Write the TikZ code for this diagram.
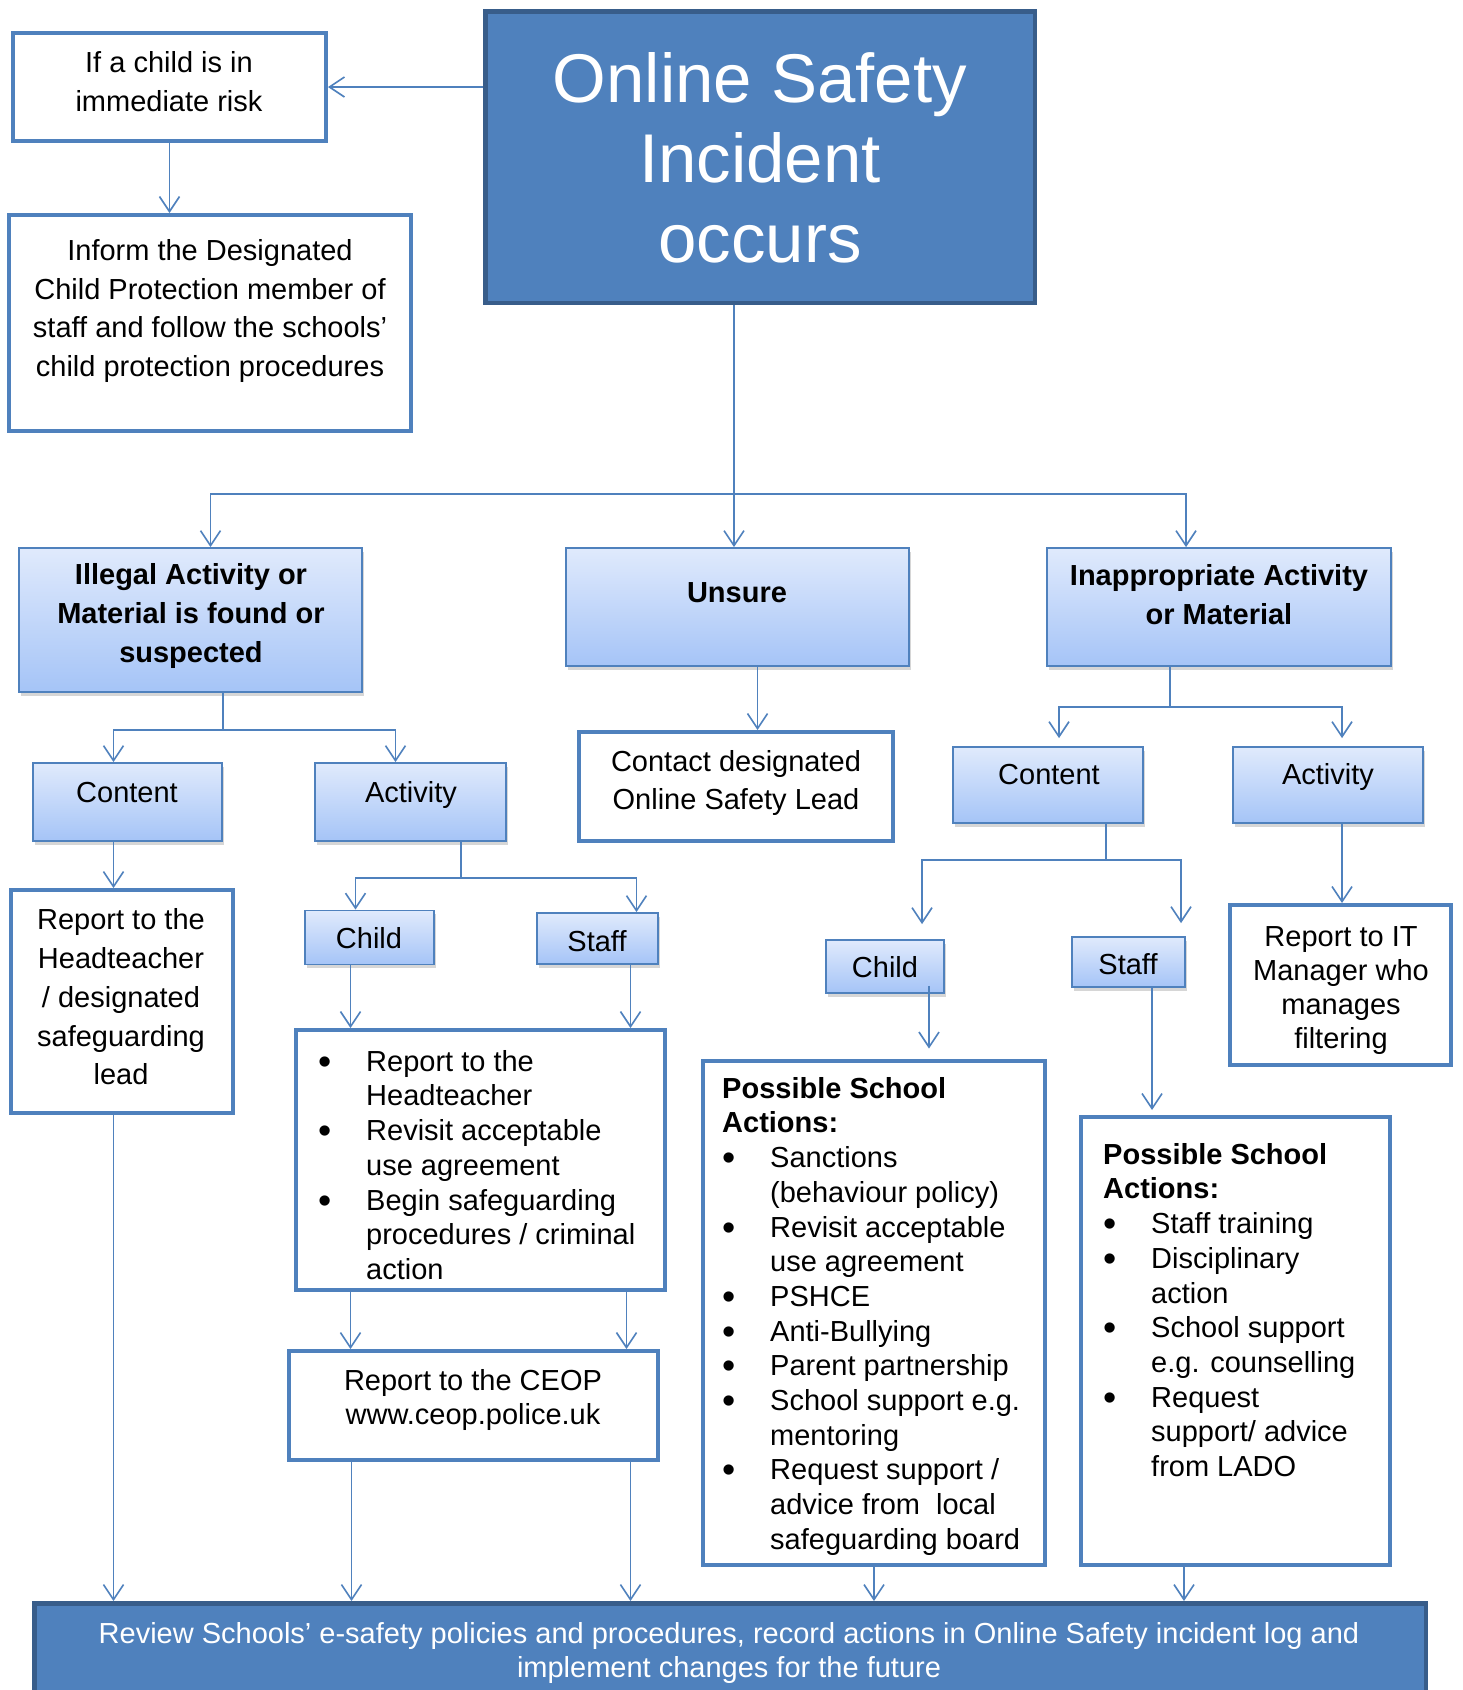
\documentclass[tikz,border=0pt]{standalone}
\usepackage{fontspec}
\setmainfont{Liberation Sans}
\usepackage{tikz}
\usetikzlibrary{arrows.meta,shadows}

\definecolor{boxblue}{HTML}{4F81BD}
\definecolor{boxdark}{HTML}{385D8A}
\definecolor{shadetop}{HTML}{E0EAFC}
\definecolor{shadebot}{HTML}{A5C4F7}

\tikzset{
	bigbox/.style={draw=boxdark, line width=4.5pt, fill=boxblue, inner sep=0pt},
	whitebox/.style={draw=boxblue, line width=4pt, fill=white, inner sep=0pt},
	shadebox/.style={draw=boxblue, line width=1.8pt, top color=shadetop, bottom color=shadebot, inner sep=0pt,
		drop shadow={shadow xshift=1.5pt, shadow yshift=-3.5pt, opacity=0.35, fill=black!45}},
	link/.style={draw=boxblue, line width=1.6pt},
	arrow/.style={link, -{Straight Barb[length=15pt,width=20pt]}},
	txt/.style={font=\fontsize{29}{38.8}\selectfont, align=center, inner sep=0pt},
	boldtxt/.style={txt, font=\fontsize{29}{39}\selectfont\bfseries},
	listtxt/.style={font=\fontsize{29}{34.7}\selectfont, align=left, anchor=north west, inner sep=0pt},
}
\newcommand{\bul}{\makebox[48pt][l]{\raisebox{-3pt}{\scalebox{1.3}{•}}}}
\newcommand{\ind}{\hspace*{48pt}}

\begin{document}
\begin{tikzpicture}[x=1pt, y=-1pt]
		\path[use as bounding box] (0,0) rectangle (1463,1690);
		\clip (0,0) rectangle (1463,1690);
		\fill[white] (0,0) rectangle (1463,1690);

		\node[bigbox, minimum width=549.5pt, minimum height=291.5pt] (incident) at (760,157) {};
		\node[txt, font=\fontsize{69}{80}\selectfont, text=white] (incident-t) at (760,158) {Online Safety\\Incident\\occurs};

		\node[whitebox, minimum width=313pt, minimum height=108pt] (risk) at (169.5,87) {};
		\node[txt] (risk-t) at (169,82) {If a child is in\\immediate risk};
		\node[whitebox, minimum width=402pt, minimum height=216pt] (inform) at (210,323) {};
		\node[txt] (inform-t) at (210,311) {Inform the Designated\\Child Protection member of\\staff and follow the schools’\\child protection procedures};

		\node[shadebox, minimum width=343pt, minimum height=144pt] (illegal) at (190.5,620) {};
		\node[boldtxt] (illegal-t) at (191,616) {Illegal Activity or\\Material is found or\\suspected};
		\node[shadebox, minimum width=343pt, minimum height=118pt] (unsure) at (737.5,607) {};
		\node[boldtxt] (unsure-t) at (737,593) {Unsure};
		\node[shadebox, minimum width=344pt, minimum height=118pt] (inapp) at (1219,607) {};
		\node[boldtxt] (inapp-t) at (1219,595) {Inappropriate Activity\\or Material};

		\node[shadebox, minimum width=189pt, minimum height=78pt] (illcontent) at (127.5,802) {};
		\node[txt] (illcontent-t) at (127,793) {Content};
		\node[shadebox, minimum width=191pt, minimum height=78pt] (illactivity) at (410.5,802) {};
		\node[txt] (illactivity-t) at (411,795) {Activity};
		\node[whitebox, minimum width=222pt, minimum height=223pt] (illreport) at (121.5,1001.5) {};
		\node[txt] (illreport-t) at (121,997) {Report to the\\Headteacher\\/ designated\\safeguarding\\lead};

		\node[shadebox, minimum width=129pt, minimum height=54pt] (illchild) at (369.5,937.5) {};
		\node[txt] (illchild-t) at (369,938) {Child};
		\node[shadebox, minimum width=121pt, minimum height=51pt] (illstaff) at (597.5,938.5) {};
		\node[txt] (illstaff-t) at (597,941) {Staff};
		\node[whitebox, minimum width=369pt, minimum height=260pt] (illactions) at (480.5,1160) {};
		\node[listtxt] (illactions-t) at (318,1050) {\bul Report to the\\ \ind Headteacher\\ \bul Revisit acceptable\\ \ind use agreement\\ \bul Begin safeguarding\\ \ind procedures / criminal\\ \ind action};
		\node[whitebox, minimum width=369pt, minimum height=109pt] (ceop) at (473.5,1405.5) {};
		\node[txt, font=\fontsize{29}{34}\selectfont] (ceop-t) at (473,1400) {Report to the CEOP\\www.ceop.police.uk};

		\node[whitebox, minimum width=314pt, minimum height=109pt] (contact) at (736,786.5) {};
		\node[txt] (contact-t) at (736,783) {Contact designated\\Online Safety Lead};

		\node[shadebox, minimum width=190pt, minimum height=76pt] (inappcontent) at (1048,785) {};
		\node[txt] (inappcontent-t) at (1049,775) {Content};
		\node[shadebox, minimum width=190pt, minimum height=76pt] (inappactivity) at (1328,785) {};
		\node[txt] (inappactivity-t) at (1328,777) {Activity};
		\node[whitebox, minimum width=221pt, minimum height=160pt] (itreport) at (1340.5,985) {};
		\node[txt, font=\fontsize{29}{34}\selectfont] (itreport-t) at (1341,991) {Report to IT\\Manager who\\manages\\filtering};

		\node[shadebox, minimum width=118pt, minimum height=53pt] (inappchild) at (885,966.5) {};
		\node[txt] (inappchild-t) at (885,967) {Child};
		\node[shadebox, minimum width=113pt, minimum height=50pt] (inappstaff) at (1128.5,962) {};
		\node[txt] (inappstaff-t) at (1128,964) {Staff};

		\node[whitebox, minimum width=342pt, minimum height=504pt] (childactions) at (874,1312.5) {};
		\node[listtxt] (childactions-t) at (722,1077) {\textbf{Possible School}\\ \textbf{Actions:}\\ \bul Sanctions\\ \ind (behaviour policy)\\ \bul Revisit acceptable\\ \ind use agreement\\ \bul PSHCE\\ \bul Anti-Bullying\\ \bul Parent partnership\\ \bul School support e.g.\\ \ind mentoring\\ \bul Request support /\\ \ind advice from\ \ local\\ \ind safeguarding board};
		\node[whitebox, minimum width=309pt, minimum height=448pt] (staffactions) at (1235.5,1341) {};
		\node[listtxt] (staffactions-t) at (1103,1143) {\textbf{Possible School}\\ \textbf{Actions:}\\ \bul Staff training\\ \bul Disciplinary\\ \ind action\\ \bul School support\\ \ind e.g. counselling\\ \bul Request\\ \ind support/ advice\\ \ind from LADO};

		\node[bigbox, minimum width=1391.5pt, minimum height=117.5pt] (review) at (730,1662) {};
		\node[txt, font=\fontsize{29}{34}\selectfont, text=white] (review-t) at (729,1653) {Review Schools’ e-safety policies and procedures, record actions in Online Safety incident log and\\implement changes for the future};

		\draw[arrow] (incident.west |- risk.east) -- (risk.east);
		\draw[arrow] (risk.south) -- (risk.south |- inform.north);

		\coordinate (split) at (734,494);
		\draw[link] (incident.south -| split) -- (split);
		\draw[arrow] (split) -| ([xshift=20pt]illegal.north);
		\draw[arrow] (split) -- (split |- unsure.north);
		\draw[arrow] (split) -| ([xshift=-33pt]inapp.north);

		\coordinate (illsplit) at (223,730);
		\draw[link] (illegal.south -| illsplit) -- (illsplit);
		\draw[arrow] (illsplit) -| ([xshift=-14pt]illcontent.north);
		\draw[arrow] (illsplit) -| ([xshift=-15pt]illactivity.north);
		\draw[arrow] ([xshift=-14pt]illcontent.south) -- ([xshift=-14pt]illcontent.south |- illreport.north);
		\draw[arrow] ([xshift=-8pt]illreport.south) -- ([xshift=-8pt]illreport.south |- review.north);

		\coordinate (actsplit) at (461,878);
		\draw[link] (illactivity.south -| actsplit) -- (actsplit);
		\draw[arrow] (actsplit) -| ([xshift=-14pt]illchild.north);
		\draw[arrow] (actsplit) -| ([xshift=39pt]illstaff.north);
		\draw[arrow] ([xshift=-19pt]illchild.south) -- ([xshift=-19pt]illchild.south |- illactions.north);
		\draw[arrow] ([xshift=33pt]illstaff.south) -- ([xshift=33pt]illstaff.south |- illactions.north);
		\draw[arrow] ([xshift=-130pt]illactions.south) -- ([xshift=-130pt]illactions.south |- ceop.north);
		\draw[arrow] ([xshift=146pt]illactions.south) -- ([xshift=146pt]illactions.south |- ceop.north);
		\draw[arrow] ([xshift=-122pt]ceop.south) -- ([xshift=-122pt]ceop.south |- review.north);
		\draw[arrow] ([xshift=157pt]ceop.south) -- ([xshift=157pt]ceop.south |- review.north);

		\draw[arrow] ([xshift=20pt]unsure.south) -- ([xshift=20pt]unsure.south |- contact.north);

		\coordinate (inappsplit) at (1170,707);
		\draw[link] (inapp.south -| inappsplit) -- (inappsplit);
		\draw[arrow, shorten >=8pt] (inappsplit) -| ([xshift=11pt]inappcontent.north);
		\draw[arrow, shorten >=8pt] (inappsplit) -| ([xshift=14pt]inappactivity.north);
		\draw[arrow] ([xshift=14pt]inappactivity.south) -- ([xshift=14pt]inappactivity.south |- itreport.north);

		\coordinate (contsplit) at (1106,860);
		\draw[link] (inappcontent.south -| contsplit) -- (contsplit);
		\draw[arrow, shorten >=15pt] (contsplit) -| ([xshift=37pt]inappchild.north);
		\draw[arrow, shorten >=13pt] (contsplit) -| ([xshift=52.5pt]inappstaff.north);
		\draw[arrow, shorten >=10pt] ([xshift=44pt,yshift=8pt]inappchild.south) -- ([xshift=44pt]inappchild.south |- childactions.north);
		\draw[arrow, shorten >=5pt] ([xshift=23.5pt]inappstaff.south) -- ([xshift=23.5pt]inappstaff.south |- staffactions.north);
		\draw[arrow] (childactions.south) -- (childactions.south |- review.north);
		\draw[arrow] ([xshift=-51.5pt]staffactions.south) -- ([xshift=-51.5pt]staffactions.south |- review.north);
\end{tikzpicture}
\end{document}
